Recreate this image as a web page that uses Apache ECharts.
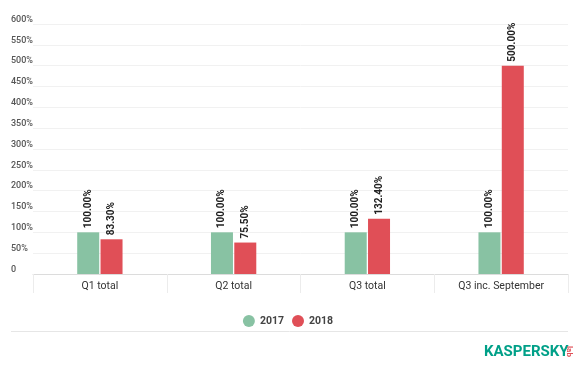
<!DOCTYPE html>
<html>
<head>
<meta charset="utf-8">
<script src="https://cdn.jsdelivr.net/npm/echarts@6/dist/echarts.min.js"></script>
<style>html,body{margin:0;padding:0;background:#fff}#c{width:576px;height:369px}</style>
</head>
<body>
<div id="c"></div>
<script>
var categories = ['Q1 total', 'Q2 total', 'Q3 total', 'Q3 inc. September'];
var series2017 = [100.00, 100.00, 100.00, 100.00];
var series2018 = [83.30, 75.50, 132.40, 500.00];
var seriesNames = ['2017', '2018'];
var yMin = 0, yMax = 600, yStep = 50;

var chart = echarts.init(document.getElementById('c'));
var lbl = {
  show: true, position: 'top', rotate: 90, align: 'left', verticalAlign: 'middle',
  distance: 4, fontFamily: 'Roboto', fontWeight: 'bold', fontSize: 10, color: '#222',
  formatter: function (p) { return p.value.toFixed(2) + '%'; }
};
chart.setOption({
  animation: false,
  textStyle: { fontFamily: 'Roboto' },
  grid: { left: 33, right: 8, top: 24, bottom: 95 },
  legend: {
    data: seriesNames, top: 310, left: 'center', icon: 'circle',
    itemWidth: 12, itemHeight: 12, itemGap: 8,
    textStyle: { fontFamily: 'Roboto', fontWeight: 'bold', fontSize: 10.5, color: '#444' }
  },
  xAxis: {
    type: 'category', data: categories,
    axisLine: { lineStyle: { color: '#dcdcdc' } },
    axisTick: { show: true, length: 19, interval: 0, lineStyle: { color: '#ececec' } },
    axisLabel: { color: '#333', fontSize: 10.5, margin: 7, interval: 0 }
  },
  yAxis: {
    type: 'value', min: yMin, max: yMax, interval: yStep,
    axisLine: { show: false }, axisTick: { show: false },
    splitLine: { lineStyle: { color: '#f1f1f1' } },
    axisLabel: {
      align: 'left', verticalAlign: 'bottom', margin: 22, color: '#555',
      fontSize: 9, fontWeight: 500,
      formatter: function (v) { return v === 0 ? '0' : v + '%'; }
    }
  },
  series: [
    { name: seriesNames[0], type: 'bar', data: series2017, barWidth: 22, barGap: '6%',
      itemStyle: { color: '#88c2a3' }, label: lbl },
    { name: seriesNames[1], type: 'bar', data: series2018, barWidth: 22,
      itemStyle: { color: '#e04f57' }, label: lbl }
  ],
  graphic: [
    { type: 'line', shape: { x1: 11, y1: 331.5, x2: 568, y2: 331.5 }, style: { stroke: '#e6e6e6', lineWidth: 1 } },
    { type: 'text', left: 484, top: 345, style: { text: 'KASPERSKY', fontFamily: 'Roboto', fontWeight: 'bold', fontSize: 15, fill: '#00a088' } },
    { type: 'text', left: 565, top: 346, rotation: -Math.PI / 2, style: { text: 'lab', fontFamily: 'Roboto', fontWeight: 'bold', fontSize: 8, fill: '#e04f57' } }
  ]
});
</script>
</body>
</html>
